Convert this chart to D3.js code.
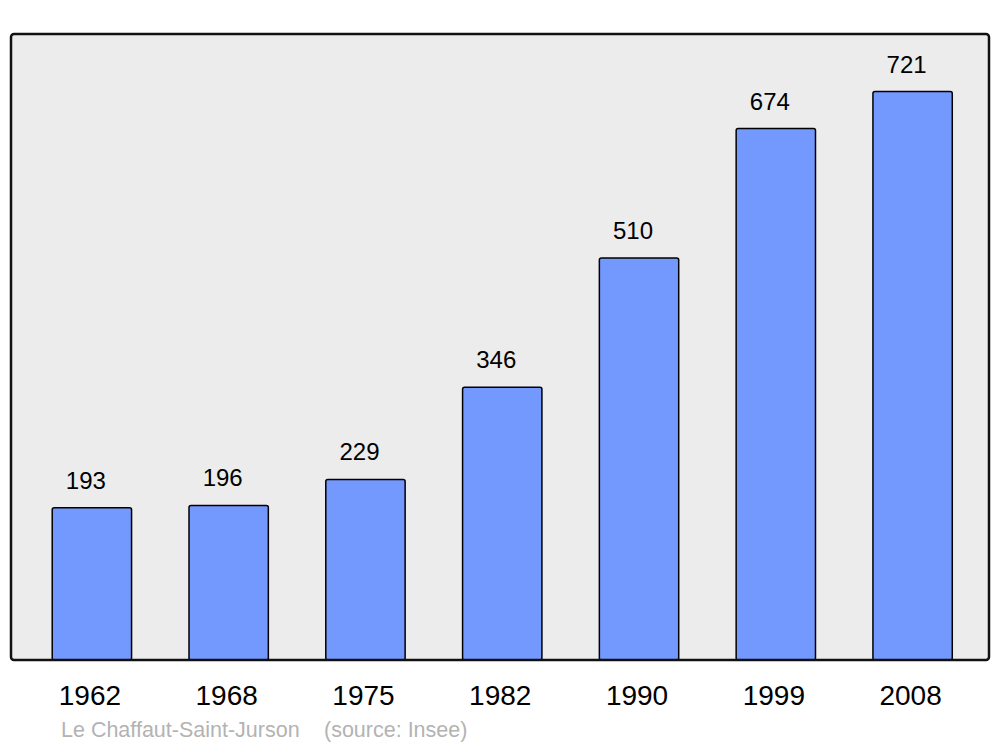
<!DOCTYPE html>
<html><head><meta charset="utf-8">
<script src="https://cdn.jsdelivr.net/npm/d3@7"></script>
<style>body{margin:0;background:#fff}svg{display:block}</style>
</head><body>
<svg id="c" width="1000" height="747"></svg>
<script>
const years = ["1962","1968","1975","1982","1990","1999","2008"];
const population = [193,196,229,346,510,674,721];
const footerName = "Le Chaffaut-Saint-Jurson";
const footerSource = "(source: Insee)";

const svg = d3.select("#c");
const frame = {x0:11, x1:989, y0:34, y1:660};
const x = d3.scaleBand().domain(years).range([23.5,981]).paddingInner(0.42).paddingOuter(0.21);
const y = d3.scaleLinear().domain([0, 794]).range([frame.y1, frame.y0]);
const font = "Liberation Sans, Arial, sans-serif";

svg.append("rect").attr("x",frame.x0).attr("y",frame.y0)
  .attr("width",frame.x1-frame.x0).attr("height",frame.y1-frame.y0)
  .attr("rx",3).attr("fill","#ececec").attr("stroke","none");

const data = years.map((d,i)=>({year:d, v:population[i]}));
svg.selectAll("rect.bar").data(data).enter().append("rect").attr("class","bar")
  .attr("x",d=>x(d.year)).attr("width",x.bandwidth())
  .attr("y",d=>y(d.v)).attr("height",d=>y(0)-y(d.v))
  .attr("rx",2).attr("fill","#7399ff").attr("stroke","#000").attr("stroke-width",1.5);

svg.selectAll("text.val").data(data).enter().append("text").attr("class","val")
  .attr("x",d=>x(d.year)+x.bandwidth()/2-6).attr("y",d=>y(d.v)-19)
  .attr("text-anchor","middle").attr("font-family",font)
  .attr("font-size",24).attr("fill","#000").text(d=>d.v);

svg.append("rect").attr("x",frame.x0).attr("y",frame.y0)
  .attr("width",frame.x1-frame.x0).attr("height",frame.y1-frame.y0)
  .attr("rx",3).attr("fill","none").attr("stroke","#111").attr("stroke-width",2.5);

svg.selectAll("text.yr").data(years).enter().append("text").attr("class","yr")
  .attr("x",d=>x(d)+x.bandwidth()/2-2).attr("y",705)
  .attr("text-anchor","middle").attr("font-family",font)
  .attr("font-size",28).attr("fill","#000").text(d=>d);

svg.append("text").attr("x",61).attr("y",737)
  .attr("font-family",font).attr("font-size",21.5)
  .attr("fill","#b3b3b3").text(footerName);
svg.append("text").attr("x",324).attr("y",737)
  .attr("font-family",font).attr("font-size",21.5)
  .attr("fill","#b3b3b3").text(footerSource);
</script>
</body></html>
